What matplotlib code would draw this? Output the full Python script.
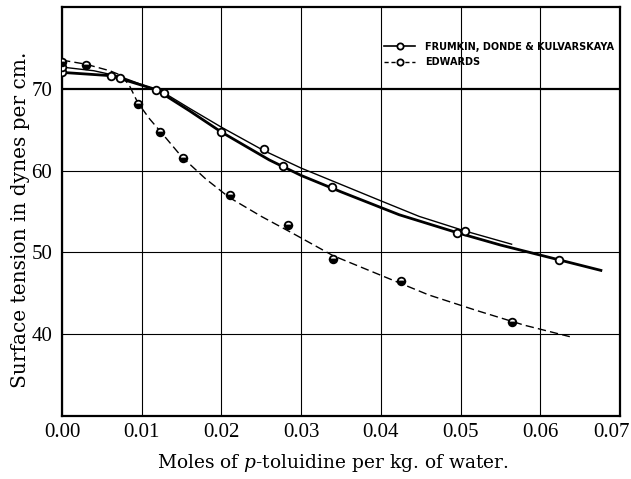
import matplotlib.pyplot as plt
import matplotlib.transforms as mtransforms
from matplotlib.lines import Line2D

# Frumkin, Donde & Kulvarskaya - heavier curve (traced) and its points
frumkin_a_x = [0.000, 0.0061, 0.0118, 0.016, 0.020, 0.026, 0.030, 0.035, 0.0423, 0.0496, 0.055, 0.0623, 0.0676]
frumkin_a_y = [72.0, 71.6, 69.9, 67.3, 64.7, 61.3, 59.4, 57.4, 54.6, 52.4, 50.9, 49.1, 47.8]
frumkin_a_pts_x = [0.000, 0.0061, 0.0118, 0.0200, 0.02775, 0.0496, 0.0623]
frumkin_a_pts_y = [72.0, 71.6, 69.9, 64.7, 60.5, 52.4, 49.1]

# Frumkin, Donde & Kulvarskaya - lighter curve (traced) and its points
frumkin_b_x = [0.000, 0.004, 0.00725, 0.0128, 0.016, 0.020, 0.0253, 0.030, 0.035, 0.040, 0.0448, 0.0506, 0.0564]
frumkin_b_y = [72.65, 72.2, 71.5, 69.5, 67.6, 65.3, 62.45, 60.3, 58.3, 56.3, 54.4, 52.6, 51.0]
frumkin_b_pts_x = [0.000, 0.00725, 0.0128, 0.0253, 0.0339, 0.0506]
frumkin_b_pts_y = [72.65, 71.3, 69.5, 62.6, 58.0, 52.6]

# Edwards - traced curve and points
edwards_x = [0.000, 0.003, 0.006, 0.0075, 0.0085, 0.0095, 0.011, 0.0125, 0.015, 0.018,
             0.021, 0.025, 0.029, 0.034, 0.040, 0.046, 0.052, 0.058, 0.0637]
edwards_y = [73.5, 73.0, 72.2, 71.6, 70.3, 68.3, 66.3, 64.6, 61.7, 59.0,
             56.7, 54.4, 52.3, 49.6, 47.2, 44.8, 42.9, 41.1, 39.7]
edwards_pts_x = [0.000, 0.003, 0.0095, 0.0123, 0.0152, 0.0211, 0.0283, 0.0340, 0.0425, 0.0565]
edwards_pts_y = [73.3, 72.85, 68.1, 64.7, 61.5, 57.07, 53.3, 49.2, 46.5, 41.45]

x_ticks = [0.00, 0.01, 0.02, 0.03, 0.04, 0.05, 0.06, 0.07]
y_ticks = [40, 50, 60, 70]

plt.rcParams['font.family'] = ['Liberation Serif']
plt.rcParams['mathtext.fontset'] = 'dejavuserif'

fig = plt.figure(figsize=(6.31, 4.79), dpi=100)
ax = fig.add_axes([0.0983, 0.1315, 0.8843, 0.854])

ax.plot(frumkin_a_x, frumkin_a_y, color='black', lw=2.0, zorder=3)
ax.plot(frumkin_b_x, frumkin_b_y, color='black', lw=1.0, zorder=3)
ax.plot(edwards_x, edwards_y, color='black', lw=1.0, ls=(0, (6, 3)), zorder=3)

mk = dict(ls='none', marker='o', ms=5.5, mec='black', mew=1.3, zorder=4)
ax.plot(frumkin_a_pts_x, frumkin_a_pts_y, mfc='white', **mk)
ax.plot(frumkin_b_pts_x, frumkin_b_pts_y, mfc='white', **mk)
ax.plot(edwards_pts_x, edwards_pts_y, mfc='black', fillstyle='bottom', mfcalt='white', **mk)

ax.set_xlim(0, 0.07)
ax.set_ylim(30, 80)
ax.set_xticks(x_ticks)
ax.set_xticklabels(['%.2f' % v for v in x_ticks])
ax.set_yticks(y_ticks)
ax.tick_params(length=0, labelsize=15)
ax.tick_params(axis='x', pad=5)
ax.tick_params(axis='y', pad=7)
ax.grid(True, color='black', lw=0.8)
ax.get_ygridlines()[-1].set_linewidth(1.6)
for s in ax.spines.values():
    s.set_linewidth(1.6)

# last x label sits a little left of its tick, as in the print
last = ax.get_xticklabels()[-1]
last.set_transform(last.get_transform() + mtransforms.ScaledTranslation(-9 / 100, 0, fig.dpi_scale_trans))

ax.set_xlabel(r'Moles of $p$-toluidine per kg. of water.', family='DejaVu Serif', fontsize=13.4)
ax.xaxis.set_label_coords(0.486, -0.088)
ax.set_ylabel('Surface tension in dynes per cm.', family='DejaVu Serif', fontsize=14.5)
ax.yaxis.set_label_coords(-0.057, 0.479)

handles = [
    Line2D([], [], color='black', lw=1.2, marker='o', ms=4.5, mfc='white', mec='black', mew=1.3),
    Line2D([], [], color='black', lw=1.0, ls=(0, (3, 2)), marker='o', ms=4.5, mfc='white', mec='black', mew=1.3),
]
leg = ax.legend(handles, ['FRUMKIN, DONDE & KULVARSKAYA', 'EDWARDS'],
                loc='upper left', bbox_to_anchor=(0.57, 0.925), frameon=False,
                prop={'family': 'DejaVu Sans', 'weight': 'bold', 'size': 7},
                handlelength=3.2, handletextpad=1.0, labelspacing=0.6, borderaxespad=0)
leg.set_zorder(5)

fig.savefig('out.png', dpi=100)
